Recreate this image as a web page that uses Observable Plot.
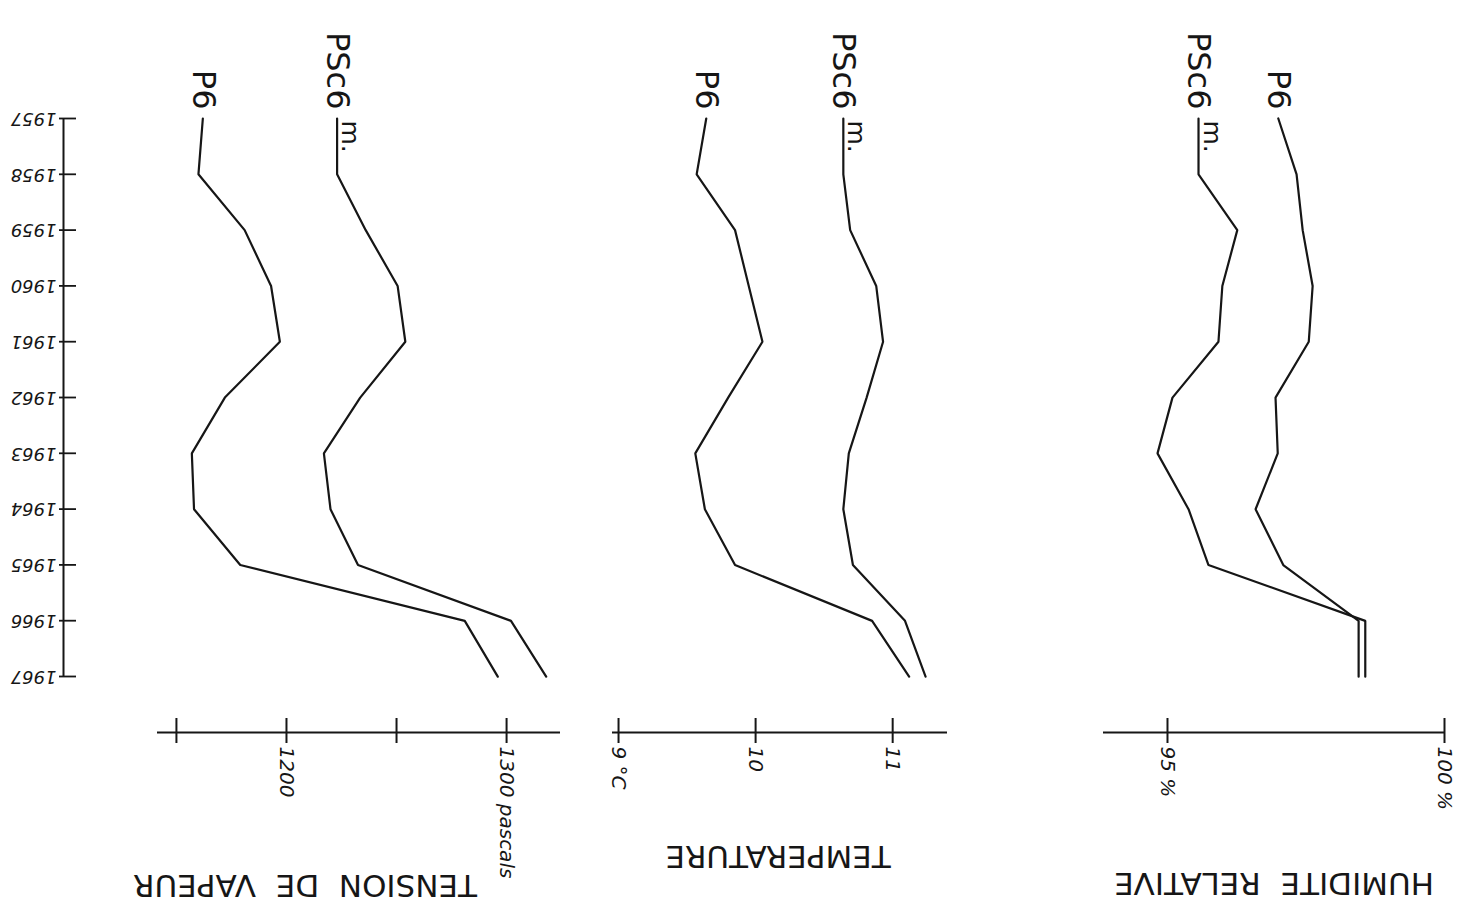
<!DOCTYPE html>
<html>
<head>
<meta charset="utf-8">
<script src="https://cdn.jsdelivr.net/npm/d3@7"></script>
<script src="https://cdn.jsdelivr.net/npm/@observablehq/plot@0.6"></script>
<style>
  html, body { margin: 0; padding: 0; background: #fff; }
  #chart { position: relative; width: 1458px; height: 904px; overflow: hidden; background: #fff; }
  #chart > div { position: absolute; top: 0; }
</style>
</head>
<body>
<div id="chart"></div>
<script>
// ---- data ----
const years = [1957, 1958, 1959, 1960, 1961, 1962, 1963, 1964, 1965, 1966, 1967];
const seriesNames = ["P6", "PSc6"];

// Vapour pressure (pascals)
const pressureP6   = [1162, 1160, 1181, 1193, 1197, 1172, 1157, 1158, 1179, 1281, 1296];
const pressurePSc6 = [1223, 1223, 1236, 1250.5, 1254, 1233.5, 1217, 1220, 1232.5, 1302, 1318];
const pressureTicks = [1150, 1200, 1250, 1300];
const pressureTickLabels = ["", "1200", "", "1300 pascals"];
const pressureAxisRange = [1141.4, 1324.5];

// Temperature (°C)
const tempP6   = [9.64, 9.57, 9.85, 9.95, 10.05, 9.80, 9.56, 9.63, 9.85, 10.85, 11.12];
const tempPSc6 = [10.64, 10.64, 10.69, 10.88, 10.93, 10.81, 10.68, 10.64, 10.71, 11.09, 11.24];
const tempTicks = [9, 10, 11];
const tempTickLabels = ["9 °C", "10", "11"];
const tempAxisRange = [8.956, 11.40];

// Relative humidity (%)
const humP6   = [97.0, 97.33, 97.44, 97.62, 97.55, 96.95, 96.99, 96.59, 97.09, 98.45, 98.45];
const humPSc6 = [95.56, 95.56, 96.26, 95.99, 95.92, 95.09, 94.82, 95.38, 95.74, 98.57, 98.57];
const humTicks = [95, 100];
const humTickLabels = ["95 %", "100 %"];
const humAxisRange = [93.845, 100];

const titles = ["TENSION  DE  VAPEUR", "TEMPERATURE", "HUMIDITE  RELATIVE"];
const axisYear = 1968; // level of the value axes, one step below the last year

// ---- layout ----
const H = 904;
const TOP = 118;        // y of 1957
const AXIS_Y = 732;     // y of the value axes
const INK = "#161616";
const FONT = "DejaVu Sans, Verdana, sans-serif";
const chart = document.getElementById("chart");

function place(node, left, width) {
  const d = document.createElement("div");
  d.style.left = left + "px";
  d.style.width = width + "px";
  d.appendChild(node);
  chart.appendChild(d);
}

// Year axis
place(Plot.plot({
  width: 110, height: H,
  marginLeft: 63, marginRight: 110 - 76, marginTop: TOP, marginBottom: H - 676,
  x: {domain: [0, 1], axis: null},
  y: {domain: [years[0], years[years.length - 1]], reverse: true, axis: null},
  style: {background: "transparent", overflow: "visible", fontFamily: FONT},
  marks: [
    Plot.ruleX([0], {y1: () => years[0], y2: () => years[years.length - 1], stroke: INK, strokeWidth: 2}),
    Plot.ruleY(years, {y: d => d, insetLeft: -4, stroke: INK, strokeWidth: 1.8}),
    Plot.text(years, {y: d => d, frameAnchor: "left", text: d => String(d), rotate: 180,
      textAnchor: "start", lineAnchor: "middle", dx: -7, fontSize: 18, fontStyle: "italic", fill: INK})
  ]
}), 0, 110);

function panel({left, width, frame, domain, p6, psc6, ticks, tickLabels, title, titleDx, titleDy, titleSpacing}) {
  const rows = [];
  years.forEach((yr, i) => {
    rows.push({year: yr, value: p6[i], series: seriesNames[0]});
    rows.push({year: yr, value: psc6[i], series: seriesNames[1]});
  });
  const firstP6 = [{year: years[0], value: p6[0], label: "P6"}];
  const firstPSc6 = [{year: years[0], value: psc6[0], label: "PSc6"}];
  const tickRows = ticks.map((v, i) => ({v, label: tickLabels[i]})).filter(d => d.label);
  return Plot.plot({
    width, height: H,
    marginLeft: frame[0] - left, marginRight: left + width - frame[1],
    marginTop: TOP, marginBottom: H - AXIS_Y,
    x: {domain, axis: null},
    y: {domain: [years[0], axisYear], reverse: true, axis: null},
    style: {background: "transparent", overflow: "visible", fontFamily: FONT},
    marks: [
      Plot.ruleY([axisYear], {stroke: INK, strokeWidth: 2}),
      Plot.ruleX(ticks, {x: d => d, y1: () => axisYear, y2: () => axisYear, insetTop: -14, insetBottom: -11, stroke: INK, strokeWidth: 2}),
      Plot.text(tickRows, {x: "v", y: () => axisYear, text: "label", rotate: 90, textAnchor: "start",
        lineAnchor: "middle", dy: 14, fontSize: 20, fontStyle: "italic", fill: INK}),
      Plot.line(rows, {x: "value", y: "year", z: "series", stroke: INK, strokeWidth: 2.2, strokeLinejoin: "miter"}),
      Plot.text(firstP6, {x: "value", y: "year", text: "label", rotate: 90, textAnchor: "end",
        lineAnchor: "middle", dy: -9, fontSize: 32, fill: INK}),
      Plot.text(firstPSc6, {x: "value", y: "year", text: "label", rotate: 90, textAnchor: "end",
        lineAnchor: "middle", dy: -9, fontSize: 32, fill: INK}),
      Plot.text(firstPSc6, {x: "value", y: "year", text: () => "m.", rotate: 90, textAnchor: "start",
        lineAnchor: "middle", dx: 13, dy: 2, fontSize: 25, fill: INK}),
      Plot.text([title], {frameAnchor: "bottom", text: d => d, rotate: 180, textAnchor: "middle",
        lineAnchor: "middle", dx: titleDx, dy: titleDy, fontSize: 31, letterSpacing: titleSpacing, fill: INK})
    ]
  });
}

place(panel({left: 110, width: 470, frame: [157, 560], domain: pressureAxisRange,
  p6: pressureP6, psc6: pressurePSc6, ticks: pressureTicks, tickLabels: pressureTickLabels,
  title: titles[0], titleDx: -54, titleDy: 152, titleSpacing: 2.5}), 110, 470);

place(panel({left: 580, width: 470, frame: [612, 947], domain: tempAxisRange,
  p6: tempP6, psc6: tempPSc6, ticks: tempTicks, tickLabels: tempTickLabels,
  title: titles[1], titleDx: -2, titleDy: 123, titleSpacing: 4}), 580, 470);

place(panel({left: 1050, width: 408, frame: [1103, 1444], domain: humAxisRange,
  p6: humP6, psc6: humPSc6, ticks: humTicks, tickLabels: humTickLabels,
  title: titles[2], titleDx: 0, titleDy: 150, titleSpacing: 3}), 1050, 408);
</script>
</body>
</html>
